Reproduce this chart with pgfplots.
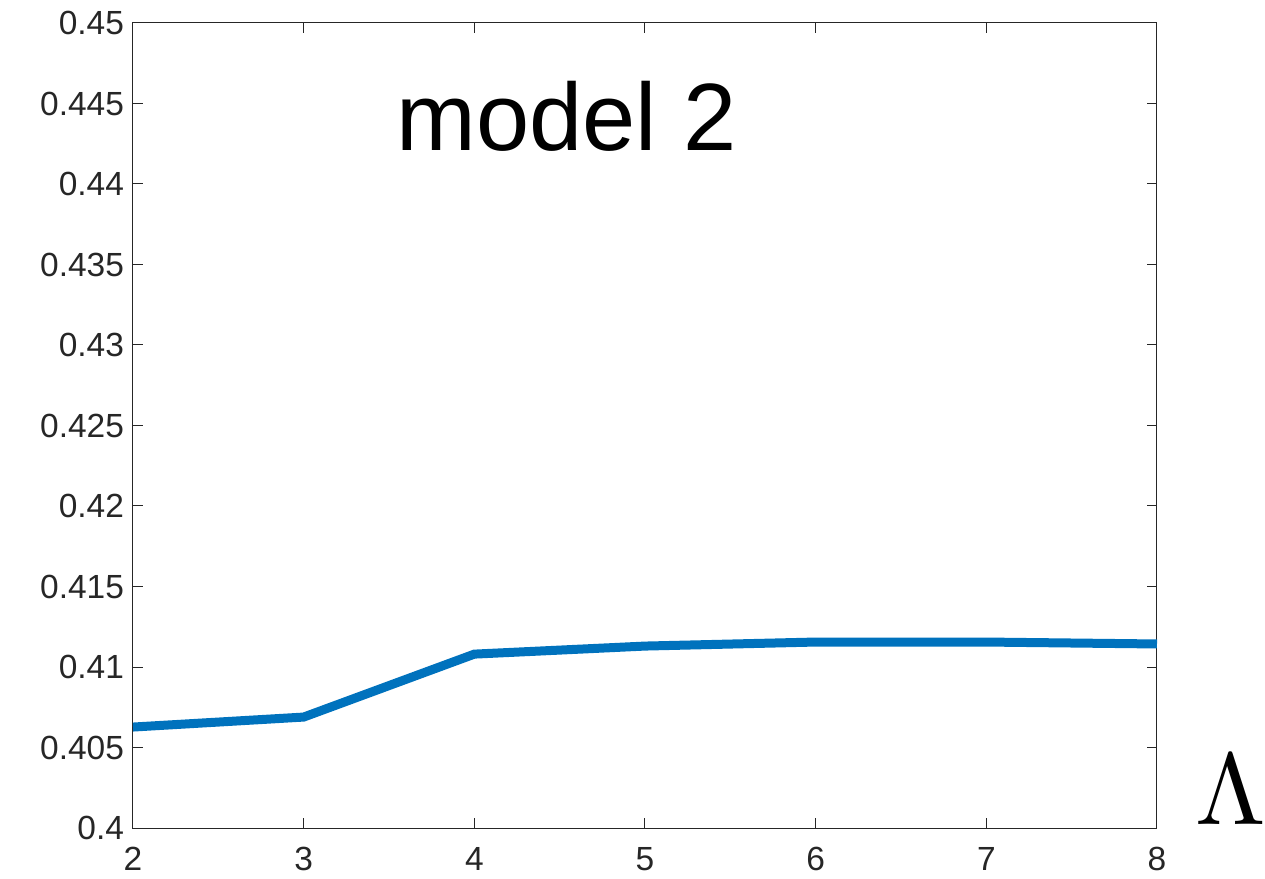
\documentclass[border=0pt]{standalone}
\usepackage{fontspec}
\setmainfont{Liberation Sans}
\usepackage{graphicx}
\usepackage{pgfplots}
\pgfplotsset{compat=1.18}
\definecolor{lineblue}{RGB}{0,114,189}
\definecolor{axgray}{RGB}{38,38,38}
\begin{document}
\begin{tikzpicture}
\begin{axis}[
  at={(0,0)}, anchor=south west,
  scale only axis,
  width=512bp, height=402.5bp,
  xmin=2, xmax=8, ymin=0.4, ymax=0.45,
  xtick={2,3,4,5,6,7,8},
  ytick={0.4,0.405,0.41,0.415,0.42,0.425,0.43,0.435,0.44,0.445,0.45},
  scaled y ticks=false,
  yticklabel style={/pgf/number format/fixed,/pgf/number format/precision=3},
  /pgf/number format/assume math mode=true,
  tick label style={font=\fontsize{16.8}{19}\selectfont, text=axgray},
  tick align=inside,
  major tick length=5bp,
  axis line style={axgray, line width=0.5bp},
  every tick/.style={axgray, line width=0.5bp},
  xticklabel shift=6bp,
  yticklabel shift=1bp,
  clip=false,
]
\addplot[lineblue, line width=4.5bp] coordinates {
  (2,0.40627) (3,0.40689) (4,0.41080) (5,0.41130) (6,0.41155) (7,0.41155) (8,0.41143)
};
\node[anchor=base, font=\fontsize{48}{54}\selectfont, inner sep=0pt] at (axis cs:4.54,0.4421) {model 2};
\node[anchor=base west, inner sep=0pt] at ([xshift=19bp]rel axis cs:1,0.004) {\scalebox{5.1}{$\Lambda$}};
\end{axis}
\pgfresetboundingbox
\useasboundingbox (-66.5bp,-25.5bp) rectangle (566bp,414bp);
\end{tikzpicture}
\end{document}
